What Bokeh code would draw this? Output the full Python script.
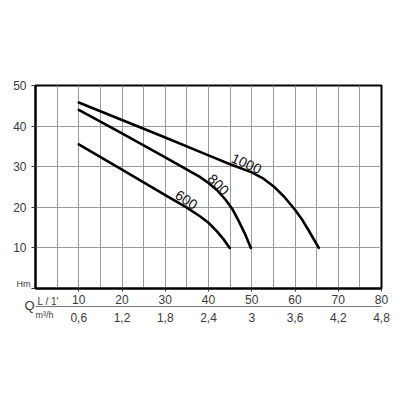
import math
from bokeh.plotting import figure
from bokeh.models import Range1d, FixedTicker, LinearAxis, Label
from bokeh.core.properties import value
from bokeh.embed import file_html
from bokeh.resources import INLINE

# Flow Q (L/min) and head H (m) for each curve
q_1000 = [10, 20, 30, 40, 45, 50, 52.5, 55, 57.5, 60, 61.5, 63, 65.5]
h_1000 = [45.8, 41.5, 37.2, 32.8, 30.6, 28.6, 27.2, 25.2, 22.6, 19.4, 17.2, 14.6, 10]
q_800 = [10, 20, 30, 38, 40, 42, 44, 45.5, 47, 48.5, 49.8]
h_800 = [44, 38.2, 32.3, 27.5, 26, 24.2, 21.8, 19.6, 16.6, 13.3, 10]
q_600 = [10, 20, 30, 35, 38, 40, 42, 43.5, 44.9]
h_600 = [35.5, 29.3, 23, 19.9, 17.8, 16.2, 14.0, 12.1, 10]

curve_names = ["1000", "800", "600"]
name_q = [48.8, 42.3, 34.9]
name_h = [30.8, 25.6, 21.9]
name_angle_deg = [-24, -45, -33]

q_ticks = [10, 20, 30, 40, 50, 60, 70, 80]
q_labels_l = ["10", "20", "30", "40", "50", "60", "70", "80"]
q_labels_m3 = ["0,6", "1,2", "1,8", "2,4", "3", "3,6", "4,2", "4,8"]
h_ticks = [0, 10, 20, 30, 40, 50]

FONT = "Liberation Sans"
TXT = "#3a3a3a"

p = figure(width=392, height=392, output_backend="svg", toolbar_location=None,
           x_range=Range1d(0, 80), y_range=Range1d(0, 50),
           min_border_left=35, min_border_right=11, min_border_top=85,
           min_border_bottom=104, x_axis_location=None, y_axis_location=None)
p.outline_line_color = "black"
p.outline_line_width = 2

# left axis
ya = LinearAxis(ticker=FixedTicker(ticks=h_ticks))
ya.major_label_overrides = {0: ""}
ya.major_label_text_font = FONT
ya.major_label_text_font_size = "12px"
ya.major_label_text_color = TXT
ya.major_tick_out = 4
ya.major_tick_in = 0
ya.major_tick_line_color = "#333"
ya.minor_tick_line_color = None
ya.axis_line_color = "black"
ya.axis_line_width = 2
ya.major_label_standoff = 5
p.add_layout(ya, "left")

# bottom axis L/min
xa = LinearAxis(ticker=FixedTicker(ticks=q_ticks))
xa.major_label_overrides = {t: s for t, s in zip(q_ticks, q_labels_l)}
xa.major_label_text_font = FONT
xa.major_label_text_font_size = "12px"
xa.major_label_text_color = TXT
xa.major_tick_out = 3
xa.major_tick_in = 0
xa.major_tick_line_color = "#333"
xa.minor_tick_line_color = None
xa.axis_line_color = "black"
xa.axis_line_width = 2
xa.major_label_standoff = 3
p.add_layout(xa, "below")

# bottom axis m3/h
xb = LinearAxis(ticker=FixedTicker(ticks=q_ticks))
xb.major_label_overrides = {t: s for t, s in zip(q_ticks, q_labels_m3)}
xb.major_label_text_font = FONT
xb.major_label_text_font_size = "12px"
xb.major_label_text_color = TXT
xb.major_tick_line_color = None
xb.minor_tick_line_color = None
xb.axis_line_color = "#777"
xb.axis_line_width = 1
xb.major_label_standoff = 0
p.add_layout(xb, "below")

# grids
p.xgrid.ticker = FixedTicker(ticks=list(range(5, 80, 5)))
p.ygrid.ticker = FixedTicker(ticks=[10, 20, 30, 40])
p.xgrid.grid_line_color = "#9a9a9a"
p.ygrid.grid_line_color = "#9a9a9a"

# curves
for qq, hh in [(q_1000, h_1000), (q_800, h_800), (q_600, h_600)]:
    p.line(qq, hh, line_color="black", line_width=2.6, line_join="round", line_cap="round")

p.text(x=name_q, y=name_h, text=curve_names,
       angle=[math.radians(a) for a in name_angle_deg],
       text_font=value(FONT), text_font_size="14px", text_color="#111",
       text_align="center", text_baseline="middle")

# unit annotations, all in the below panel (stacked; offsets relative to each slot)
p.add_layout(Label(x=2, y=34, x_units="screen", y_units="screen", text="L / 1'",
                   text_align="left", text_baseline="middle", text_font=FONT,
                   text_font_size="10px", text_color=TXT), "below")
p.add_layout(Label(x=0, y=31, x_units="screen", y_units="screen", text="m³/h",
                   text_align="left", text_baseline="middle", text_font=FONT,
                   text_font_size="9px", text_color=TXT), "below")
p.add_layout(Label(x=-5, y=67, x_units="screen", y_units="screen", text="Hm",
                   text_align="right", text_baseline="bottom", text_font=FONT,
                   text_font_size="9px", text_color=TXT), "below")
p.add_layout(Label(x=-6, y=65, x_units="screen", y_units="screen", text="Q",
                   text_align="center", text_baseline="middle", text_font=FONT,
                   text_font_size="13px", text_color=TXT), "below")

open("out.html", "w").write(file_html(p, INLINE))
